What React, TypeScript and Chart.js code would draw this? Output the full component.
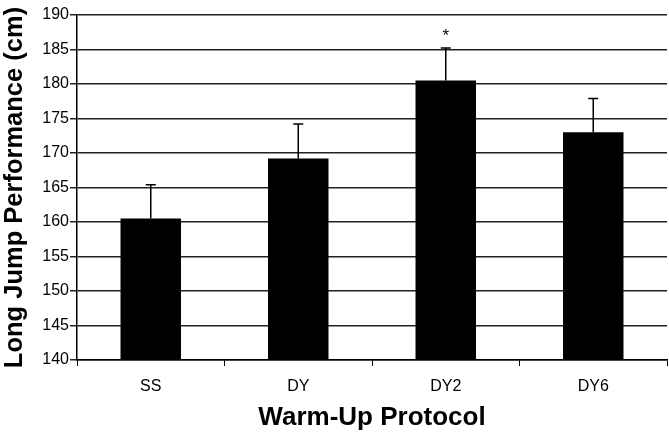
import React, { useEffect, useRef } from "react";
import { Chart, registerables } from "chart.js";

Chart.register(...registerables);

const categories = ["SS", "DY", "DY2", "DY6"];
const means = [160.5, 169.2, 180.5, 173.0];
const errors = [4.9, 5.0, 4.7, 4.9];
const significance = ["", "", "*", ""];
const yMin = 140;
const yMax = 190;
const yStep = 5;
const xTitle = "Warm-Up Protocol";
const yTitle = "Long Jump Performance (cm)";

const FONT = "'Liberation Sans', Arial, sans-serif";

const errorBarPlugin = {
  id: "errorBars",
  afterDatasetsDraw(chart: any) {
    const ctx = chart.ctx;
    const meta = chart.getDatasetMeta(0);
    const yScale = chart.scales.y;
    ctx.save();
    ctx.strokeStyle = "#000";
    ctx.lineWidth = 1.5;
    meta.data.forEach((bar: any, i: number) => {
      const x = bar.x;
      const yTop = yScale.getPixelForValue(means[i] + errors[i]);
      const yBase = yScale.getPixelForValue(means[i]);
      ctx.beginPath();
      ctx.moveTo(x, yBase);
      ctx.lineTo(x, yTop);
      ctx.moveTo(x - 5, yTop);
      ctx.lineTo(x + 5, yTop);
      ctx.stroke();
      if (significance[i]) {
        ctx.fillStyle = "#000";
        ctx.font = "17px " + FONT;
        ctx.textAlign = "center";
        ctx.textBaseline = "bottom";
        ctx.fillText(significance[i], x, yTop - 3);
      }
    });
    ctx.restore();
  },
};

export default function App() {
  const ref = useRef<HTMLCanvasElement>(null);
  useEffect(() => {
    const chart = new Chart(ref.current!, {
      type: "bar",
      data: {
        labels: categories,
        datasets: [
          {
            data: means,
            backgroundColor: "#000",
            borderWidth: 0,
            barPercentage: 0.82,
            categoryPercentage: 0.5,
          },
        ],
      },
      options: {
        animation: false,
        responsive: true,
        maintainAspectRatio: false,
        layout: { padding: { top: 15, right: 2, left: 0, bottom: 0 } },
        plugins: { legend: { display: false }, tooltip: { enabled: false } },
        scales: {
          x: {
            grid: {
              display: true,
              offset: true,
              drawOnChartArea: false,
              drawTicks: true,
              tickLength: 6,
              color: "#000",
            },
            border: { color: "#000", width: 1.5 },
            ticks: {
              color: "#000",
              font: { family: FONT, size: 16 },
              padding: 11,
            },
            title: {
              display: true,
              text: xTitle,
              color: "#000",
              font: { family: FONT, size: 26, weight: "bold" },
              padding: { top: 0, bottom: 1 },
            },
            afterFit(scale: any) {
              scale.height = 74;
            },
          },
          y: {
            min: yMin,
            max: yMax,
            grid: {
              color: "#222",
              lineWidth: 1.5,
              drawTicks: true,
              tickLength: 7,
            },
            border: { color: "#000", width: 1.5 },
            ticks: {
              stepSize: yStep,
              color: "#000",
              font: { family: FONT, size: 16 },
              padding: 1,
            },
            title: {
              display: true,
              text: yTitle,
              color: "#000",
              font: { family: FONT, size: 25.5, weight: "bold" },
              padding: { top: 0, bottom: 4 },
            },
            afterFit(scale: any) {
              scale.width = 77;
            },
          },
        },
      },
      plugins: [errorBarPlugin],
    });
    return () => chart.destroy();
  }, []);
  return (
    <div style={{ position: "fixed", left: 0, top: 0, width: 669, height: 434, background: "#fff" }}>
      <canvas ref={ref} />
    </div>
  );
}
